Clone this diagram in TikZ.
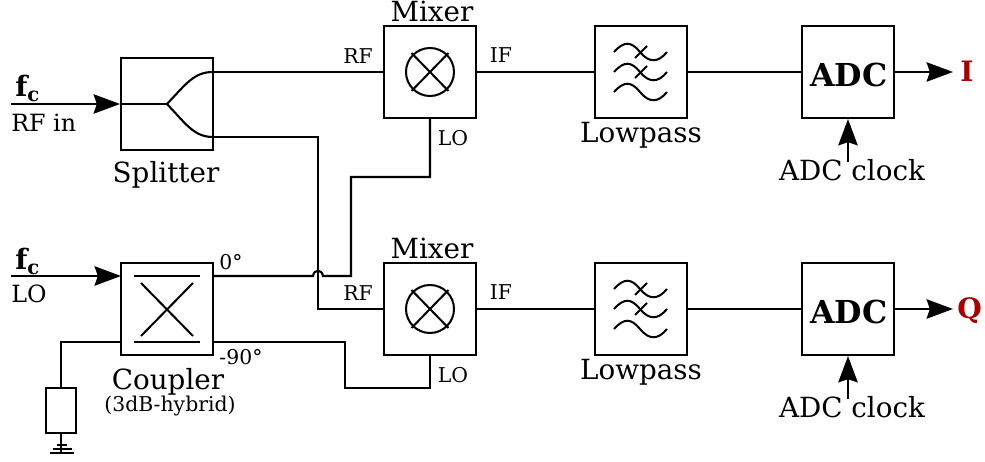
\documentclass[tikz,border=0pt]{standalone}
\usepackage{fontspec}
\setmainfont{DejaVu Serif}
\usetikzlibrary{arrows.meta}
\definecolor{iqred}{HTML}{AA0000}
\tikzset{
    blockbox/.style={draw, line width=1.3pt, minimum size=52.2pt, inner sep=0pt},
    wire/.style={line width=1.2pt},
    symline/.style={line width=1.15pt},
    feed/.style={wire, -{Stealth[length=15pt, width=11pt, inset=1.8pt]}},
    biglabel/.style={anchor=base, inner sep=0pt, font=\fontsize{15.8}{18}\selectfont},
    smalllabel/.style={anchor=base, inner sep=0pt, font=\fontsize{11.6}{14}\selectfont},
    midlabel/.style={anchor=base west, inner sep=0pt, font=\fontsize{13.5}{16}\selectfont},
    freqlabel/.style={anchor=base west, inner sep=0pt, font=\fontsize{16}{18}\selectfont\bfseries},
    adclabel/.style={anchor=base, inner sep=0pt, font=\fontsize{18}{20}\selectfont\bfseries},
    outlabel/.style={anchor=base west, inner sep=0pt, text=iqred, font=\fontsize{16}{18}\selectfont\bfseries}
}
\begin{document}
\begin{tikzpicture}[x=0.02cm, y=-0.02cm]
    \useasboundingbox (0,0) rectangle (985,462);

    \node [blockbox] (splitter) at (167,104) {};
    \node [blockbox] (coupler) at (167,309) {};
    \node [blockbox] (mixerA) at (430,72) {};
    \node [blockbox] (mixerB) at (430,309) {};
    \node [blockbox] (lowpassA) at (641,72) {};
    \node [blockbox] (lowpassB) at (641,309) {};
    \node [blockbox] (adcA) at (848,72) {};
    \node [blockbox] (adcB) at (848,309) {};
    \node [draw, line width=1.2pt, minimum width=17pt, minimum height=25.5pt, inner sep=0pt] (load) at (61,410.5) {};

    \coordinate (rfin) at (11,104);
    \coordinate (loin) at (11,276);
    \coordinate (couplerin) at (121,276);
    \coordinate (splitfork) at (167,104);
    \coordinate (splittop) at (213,72);
    \coordinate (splitbot) at (213,137);
    \coordinate (zerodeg) at (213,276);
    \coordinate (minusdeg) at (213,342);
    \coordinate (termport) at (121,342);
    \coordinate (iout) at (953,72);
    \coordinate (qout) at (953,309);
    \coordinate (clockA) at (848,162);
    \coordinate (clockB) at (848,399);
    \coordinate (gnd) at (61,453);

    \draw [feed] (rfin) -- (splitter.west);
    \draw [feed] (loin) -- (couplerin);
    \draw [wire] (splitter.west) -- (splitfork);
    \draw [wire] (splitfork) .. controls (186,84) and (194,72) .. (splittop);
    \draw [wire] (splitfork) .. controls (186,124) and (194,137) .. (splitbot);

    \draw [wire] (splittop) -- (mixerA.west);
    \draw [wire] (splitbot) -- (318,137) -- (318,309) -- (mixerB.west);
    \draw [wire] (zerodeg) -- (313,276) .. controls (314,269) and (322,269) .. (323,276)
        -- (351,276) -- (351,177) -- (430,177) -- (mixerA.south);
    \draw [wire] (minusdeg) -- (345,342) -- (345,388) -- (430,388) -- (mixerB.south);
    \draw [wire] (termport) -- (61,342) -- (load.north);
    \draw [wire] (load.south) -- (gnd);
    \draw [wire] (57,445) -- (67,445);
    \draw [wire] (53,449) -- (72,449);
    \draw [wire] (50,453) -- (74,453);

    \draw [wire] (mixerA.east) -- (lowpassA.west);
    \draw [wire] (mixerB.east) -- (lowpassB.west);
    \draw [wire] (lowpassA.east) -- (adcA.west);
    \draw [wire] (lowpassB.east) -- (adcB.west);
    \draw [feed] (adcA.east) -- (iout);
    \draw [feed] (adcB.east) -- (qout);
    \draw [feed] (clockA) -- (adcA.south);
    \draw [feed] (clockB) -- (adcB.south);

    \draw [symline] (134,276) -- (200,276);
    \draw [symline] (134,342) -- (200,342);
    \draw [symline] (141,283) -- (193,336);
    \draw [symline] (141,336) -- (193,283);

    \foreach \mid in {72,309} {
        \draw [symline] (430,\mid) circle (24);
        \draw [symline] (411.5,\mid-19) -- (448.5,\mid+19);
        \draw [symline] (411.5,\mid+19) -- (448.5,\mid-19);
    }

    \foreach \top in {0,237} {
        \foreach \y in {52,72,92} {
            \draw [symline] (614,\y+\top) .. controls (624,\y+\top-11) and (631,\y+\top-11) .. (640,\y+\top)
                .. controls (649,\y+\top+11) and (658,\y+\top+11) .. (667,\y+\top);
        }
        \foreach \y in {58,78} {
            \draw [symline] (635,\y+\top) -- (647,\y+\top-12);
        }
    }

    \node [biglabel] (splittertext) at (166,183) {Splitter};
    \node [biglabel] (couplertext) at (168,390) {Coupler};
    \node [smalllabel] (hybridtext) at (170,412) {(3dB-hybrid)};
    \node [biglabel] (mixerAtext) at (432,22) {Mixer};
    \node [biglabel] (mixerBtext) at (432,259) {Mixer};
    \node [biglabel] (lowpassAtext) at (641,143) {Lowpass};
    \node [biglabel] (lowpassBtext) at (641,380) {Lowpass};
    \node [adclabel] (adcAtext) at (849,87) {ADC};
    \node [adclabel] (adcBtext) at (849,324) {ADC};
    \node [biglabel] (clockAtext) at (852,181) {ADC clock};
    \node [biglabel] (clockBtext) at (852,418) {ADC clock};

    \node [freqlabel] (rffreq) at (15,97) {f\textsubscript{c}};
    \node [freqlabel] (lofreq) at (15,270) {f\textsubscript{c}};
    \node [midlabel] (rfintext) at (11,132) {RF in};
    \node [midlabel] (lointext) at (11,303) {LO};

    \node [smalllabel] (rfAtext) at (358,64) {RF};
    \node [smalllabel] (ifAtext) at (501,63) {IF};
    \node [smalllabel] (loAtext) at (453,146) {LO};
    \node [smalllabel] (rfBtext) at (358,301) {RF};
    \node [smalllabel] (ifBtext) at (501,300) {IF};
    \node [smalllabel] (loBtext) at (453,383) {LO};
    \node [smalllabel] (zerotext) at (231,270) {0°};
    \node [smalllabel] (minustext) at (241,365) {-90°};

    \node [outlabel] (itext) at (960,82) {I};
    \node [outlabel] (qtext) at (957,319) {Q};
\end{tikzpicture}
\end{document}
